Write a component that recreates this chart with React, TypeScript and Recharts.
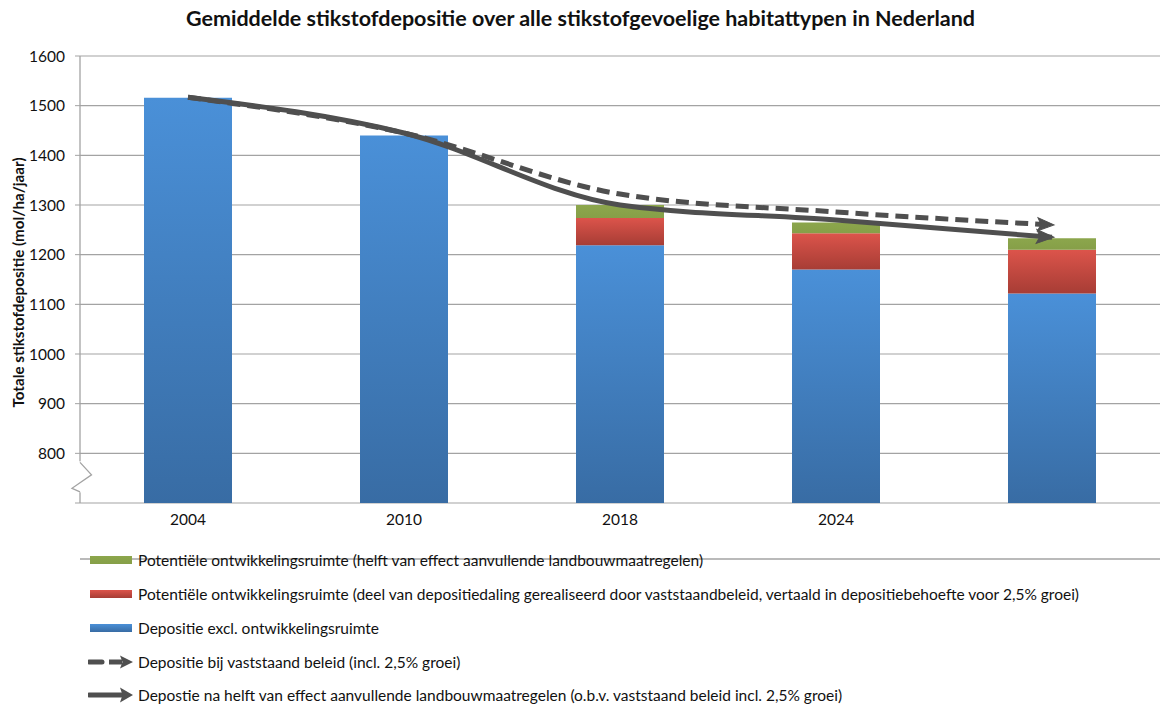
import React from 'react';
import { ComposedChart, Bar, Line, XAxis, YAxis, CartesianGrid } from 'recharts';

const categories = ['2004', '2010', '2018', '2024', ''];
const depositieExcl = [1516, 1440, 1219, 1170, 1122];
const ruimteBeleid = [0, 0, 55, 73, 88];
const ruimteLandbouw = [0, 0, 26, 22, 23];
const vaststaandBeleid = [1517, 1445, 1322, 1286, 1260];
const naLandbouw = [1517, 1445, 1300, 1270, 1235];
const yTicks = [700, 800, 900, 1000, 1100, 1200, 1300, 1400, 1500, 1600];
const edgeTicks = [0, 1, 2, 3, 4, 5];

const legendLabels = [
  'Potentiële ontwikkelingsruimte (helft van effect aanvullende landbouwmaatregelen)',
  'Potentiële ontwikkelingsruimte (deel van depositiedaling gerealiseerd door vaststaandbeleid, vertaald in depositiebehoefte voor 2,5% groei)',
  'Depositie excl. ontwikkelingsruimte',
  'Depositie bij vaststaand beleid (incl. 2,5% groei)',
  'Depostie na helft van effect aanvullende landbouwmaatregelen (o.b.v. vaststaand beleid incl. 2,5% groei)',
];

const data = categories.map((cat, i) => ({
  cat,
  basis: depositieExcl[i],
  beleid: ruimteBeleid[i],
  landbouw: ruimteLandbouw[i],
  vast: vaststaandBeleid[i],
  na: naLandbouw[i],
}));

const FONT = 'Lato, "Open Sans", sans-serif';
const GRID = '#a3a3a3';
const LINE = '#4f4f4f';
const TICK_SIZE = 5;
const TICK_MARGIN = 10;

const YTick = (props: any) => {
  const { x, y, payload } = props;
  const v = payload.value;
  const ax = x + TICK_SIZE + TICK_MARGIN;
  return (
    <g>
      {v !== 700 && (
        <text x={x} y={y} dy={5.5} textAnchor="end" fontSize={15.5} fontFamily={FONT} fill="#111">
          {v}
        </text>
      )}
      {v === 800 && (
        <g>
          <rect x={ax - 2} y={y + 8} width={4} height={31} fill="#fff" />
          <polyline
            points={`${ax},${y + 9} ${ax + 11.5},${y + 21.5} ${ax - 8},${y + 35} ${ax},${y + 38.5}`}
            fill="none"
            stroke={GRID}
            strokeWidth={1.3}
          />
        </g>
      )}
    </g>
  );
};

const makeArrowDot = (size: number, key: string) => (props: any) => {
  const { cx, cy, index, points } = props;
  if (index !== categories.length - 1 || cx == null) return <g key={`${key}-${index}`} />;
  let ang = 0;
  if (points && points.length > 1) {
    const p = points[points.length - 2];
    ang = Math.atan2(cy - p.y, cx - p.x) * 0.6;
  }
  const len = size * 1.25;
  const half = size / 2;
  const tx = cx + 2;
  const ty = cy;
  const d = `M${tx},${ty} L${tx - len},${ty - half} L${tx - len * 0.8},${ty} L${tx - len},${ty + half} Z`;
  return (
    <path
      key={`${key}-${index}`}
      d={d}
      fill={LINE}
      stroke={LINE}
      strokeWidth={1}
      strokeLinejoin="miter"
      transform={`rotate(${(ang * 180) / Math.PI} ${tx} ${ty})`}
    />
  );
};

const YLabel = (props: any) => {
  const vb = props.viewBox || { x: 0, y: 57, height: 446 };
  const cx = 18;
  const cy = vb.y + vb.height / 2 + 3;
  return (
    <text
      x={cx}
      y={cy}
      transform={`rotate(-90 ${cx} ${cy})`}
      textAnchor="middle"
      dominantBaseline="central"
      fontSize={15.2}
      fontWeight={700}
      fontFamily={FONT}
      fill="#111"
    >
      Totale stikstofdepositie (mol/ha/jaar)
    </text>
  );
};

const LegendIcon = ({ i }: { i: number }) => {
  if (i < 3) {
    const grads = ['lgGreen', 'lgRed', 'lgBlue'];
    return (
      <svg width={46} height={16} style={{ display: 'block' }}>
        <rect x={2} y={4} width={42} height={8} fill={`url(#${grads[i]})`} />
      </svg>
    );
  }
  if (i === 3) {
    return (
      <svg width={46} height={16} style={{ display: 'block' }}>
        <line x1={1} y1={8} x2={14} y2={8} stroke={LINE} strokeWidth={5} strokeLinecap="round" />
        <line x1={21} y1={8} x2={34} y2={8} stroke={LINE} strokeWidth={5} />
        <path d="M45,8 L32,1.5 L34.5,8 L32,14.5 Z" fill={LINE} />
      </svg>
    );
  }
  return (
    <svg width={46} height={16} style={{ display: 'block' }}>
      <line x1={1} y1={8} x2={34} y2={8} stroke={LINE} strokeWidth={5} strokeLinecap="round" />
      <path d="M45,8 L32,0.5 L34.5,8 L32,15.5 Z" fill={LINE} />
    </svg>
  );
};

const legendCenters = [560, 594, 628, 662, 695];

export default function App() {
  return (
    <div style={{ position: 'absolute', left: 0, top: 0, width: 1161, height: 704, background: '#fff', fontFamily: FONT }}>
      <svg width={0} height={0} style={{ position: 'absolute' }}>
        <defs>
          <linearGradient id="lgBlue" x1="0" y1="0" x2="0" y2="1">
            <stop offset="0%" stopColor="#4a90d8" />
            <stop offset="100%" stopColor="#386ca4" />
          </linearGradient>
          <linearGradient id="lgRed" x1="0" y1="0" x2="0" y2="1">
            <stop offset="0%" stopColor="#dc544b" />
            <stop offset="100%" stopColor="#a73d35" />
          </linearGradient>
          <linearGradient id="lgGreen" x1="0" y1="0" x2="0" y2="1">
            <stop offset="0%" stopColor="#8ca64c" />
            <stop offset="100%" stopColor="#869f48" />
          </linearGradient>
        </defs>
      </svg>
      <div
        style={{
          position: 'absolute',
          top: 4,
          left: 0,
          width: 1161,
          textAlign: 'center',
          fontSize: 21.5,
          fontWeight: 700,
          color: '#111',
          lineHeight: '28px',
        }}
      >
        Gemiddelde stikstofdepositie over alle stikstofgevoelige habitattypen in Nederland
      </div>
      <div style={{ position: 'absolute', left: 0, top: 0 }}>
        <ComposedChart
          width={1161}
          height={560}
          data={data}
          margin={{ top: 56, right: 1, left: 0, bottom: 0 }}
          barSize={88}
        >
          <CartesianGrid vertical={false} stroke={GRID} strokeWidth={1.2} />
          <XAxis
            xAxisId="edge"
            type="number"
            domain={[0, 5]}
            ticks={edgeTicks}
            tick={false}
            tickLine={{ stroke: GRID }}
            tickSize={6}
            axisLine={{ stroke: GRID, strokeWidth: 1.3 }}
            height={1}
            allowDataOverflow
          />
          <XAxis
            xAxisId="cat"
            dataKey="cat"
            axisLine={false}
            tickLine={false}
            tickSize={0}
            tickMargin={11}
            height={56}
            interval={0}
            tick={{ fontSize: 15.5, fontFamily: FONT, fill: '#111' }}
          />
          <YAxis
            width={80}
            domain={[700, 1600]}
            ticks={yTicks}
            allowDataOverflow
            interval={0}
            tick={<YTick />}
            tickSize={TICK_SIZE}
            tickMargin={TICK_MARGIN}
            tickLine={{ stroke: GRID }}
            axisLine={{ stroke: GRID, strokeWidth: 1.3 }}
            label={<YLabel />}
          />
          <Bar xAxisId="cat" dataKey="basis" stackId="s" fill="url(#lgBlue)" isAnimationActive={false} />
          <Bar xAxisId="cat" dataKey="beleid" stackId="s" fill="url(#lgRed)" isAnimationActive={false} />
          <Bar xAxisId="cat" dataKey="landbouw" stackId="s" fill="url(#lgGreen)" isAnimationActive={false} />
          <Line
            xAxisId="cat"
            type="monotone"
            dataKey="vast"
            stroke={LINE}
            strokeWidth={5}
            strokeDasharray="13 7"
            dot={makeArrowDot(13, 'v')}
            activeDot={false}
            isAnimationActive={false}
          />
          <Line
            xAxisId="cat"
            type="monotone"
            dataKey="na"
            stroke={LINE}
            strokeWidth={5}
            dot={makeArrowDot(14, 'n')}
            activeDot={false}
            isAnimationActive={false}
          />
        </ComposedChart>
      </div>
      {legendLabels.map((label, i) => (
        <div
          key={label}
          style={{
            position: 'absolute',
            left: 88,
            top: legendCenters[i] - 11,
            height: 22,
            display: 'flex',
            alignItems: 'center',
            fontSize: 15.5,
            color: '#111',
            whiteSpace: 'nowrap',
          }}
        >
          <LegendIcon i={i} />
          <span style={{ marginLeft: 4 }}>{label}</span>
        </div>
      ))}
    </div>
  );
}
